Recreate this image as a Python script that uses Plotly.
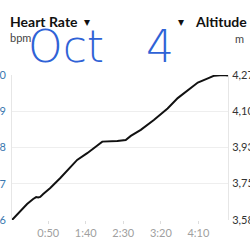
import plotly.graph_objects as go

# elapsed time in minutes
minutes = [1.7, 12.5, 21.8, 29.9, 33.9, 36.6, 39.3, 43.3, 52.7, 66.1, 79.5, 88.5,
           101.9, 106.3, 113, 122, 142, 153.2, 160, 173.3, 190.7, 209, 222.5,
           236, 249.3, 262.7, 271.2, 282.8, 289.5]
altitude_m = [3585, 3627, 3661, 3685, 3694, 3692, 3695, 3709, 3737, 3785, 3837, 3871,
              3903, 3915, 3934, 3958, 3961, 3966, 3985, 4014, 4061, 4116, 4165,
              4204, 4239, 4259, 4272, 4275, 4272]

x_tickvals = [50, 100, 150, 200, 250]
x_ticktext = ["0:50", "1:40", "2:30", "3:20", "4:10"]
hr_tickvals = [96, 97, 98, 99, 100]
hr_ticktext = ["96", "97", "98", "99", "100"]
alt_tickvals = [3585, 3758, 3930, 4103, 4275]
alt_ticktext = ["3,585", "3,758", "3,930", "4,103", "4,275"]

fig = go.Figure()
fig.add_trace(go.Scatter(x=[None], y=[None], yaxis="y", showlegend=False))
fig.add_trace(go.Scatter(x=minutes, y=altitude_m, yaxis="y2", mode="lines",
                         line=dict(color="#111111", width=2), showlegend=False))

fig.update_layout(
    width=250, height=250,
    margin=dict(l=12, r=22, t=75, b=30),
    paper_bgcolor="white", plot_bgcolor="white",
    font=dict(family="Lato", size=11),
    xaxis=dict(range=[1.7, 289.5], tickvals=x_tickvals, ticktext=x_ticktext,
               showgrid=False, zeroline=False, showline=False,
               ticks="outside", ticklen=3, tickcolor="#dddddd",
               tickfont=dict(color="#a0a0a0", size=11), automargin=False),
    yaxis=dict(range=[96, 100], tickvals=hr_tickvals, ticktext=hr_ticktext,
               showgrid=True, gridcolor="#eeeeee", zeroline=False,
               showline=True, linecolor="#e6e6e6", mirror=False,
               ticklabelstandoff=3,
               tickfont=dict(color="#3b78b0", size=11), automargin=False),
    yaxis2=dict(range=[3585, 4275], tickvals=alt_tickvals, ticktext=alt_ticktext,
                overlaying="y", side="right", showgrid=False, zeroline=False,
                showline=True, linecolor="#e6e6e6", ticklabelstandoff=1,
                tickfont=dict(color="#333333", size=11), automargin=False),
)

ann = [
    dict(x=8, y=250 - 22, text="<b>Heart Rate</b>", size=14, color="#111111", anchor="left"),
    dict(x=87, y=250 - 22, text="▾", size=12, color="#111111", anchor="center"),
    dict(x=8, y=250 - 38, text="bpm", size=11, color="#444444", anchor="left"),
    dict(x=181, y=250 - 22, text="▾", size=12, color="#111111", anchor="center"),
    dict(x=193, y=250 - 22, text="<b>Altitude</b>", size=14, color="#111111", anchor="left"),
    dict(x=233, y=250 - 39, text="m", size=11, color="#444444", anchor="left"),
]
for a in ann:
    fig.add_annotation(x=(a["x"] - 12) / 216, y=(a["y"] - 30) / 145,
                       xref="paper", yref="paper", text=a["text"], showarrow=False,
                       xanchor=a["anchor"], yanchor="middle",
                       font=dict(size=a["size"], color=a["color"]))

# handwritten note
fig.add_annotation(x=(26 - 12) / 216, y=(250 - 46 - 30) / 145, xref="paper", yref="paper",
                   text="Oct   4", showarrow=False, xanchor="left", yanchor="middle",
                   font=dict(size=44, color="#2f62d6", family="DejaVu Sans", weight=200))

fig.write_html("out.html")
